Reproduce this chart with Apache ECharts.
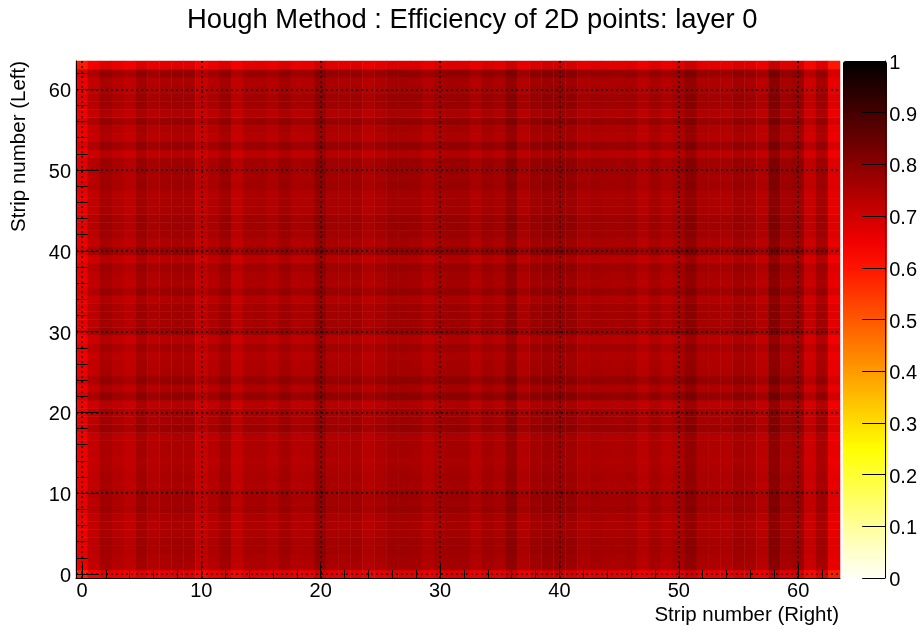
<!DOCTYPE html>
<html>
<head>
<meta charset="utf-8">
<style>html,body{margin:0;padding:0;background:#fff}#c{width:920px;height:634px}</style>
<script src="https://cdn.jsdelivr.net/npm/echarts@6/dist/echarts.min.js"></script>
</head>
<body>
<div id="c"></div>
<script>
const titleText = 'Hough Method : Efficiency of 2D points: layer 0';
const xName = 'Strip number (Right)';
const yName = 'Strip number (Left)';
// efficiency seen along each Right strip (index 0..63), at a typical Left strip
const columnEfficiency = [
  .659,.722,.759,.740,.727,.765,.743,.753,.759,.759,
  .716,.740,.765,.722,.751,.753,.740,.765,.743,.746,
  .785,.755,.753,.759,.740,.751,.765,.765,.763,.743,
  .759,.765,.765,.743,.765,.753,.790,.746,.768,.778,
  .778,.775,.751,.759,.755,.753,.759,.735,.759,.740,
  .759,.790,.753,.751,.746,.765,.759,.735,.800,.759,
  .771,.710,.759,.667];
// efficiency seen along each Left strip (index 0..63), at a typical Right strip
const rowEfficiency = [
  .659,.743,.746,.753,.753,.743,.740,.743,.759,.753,
  .759,.740,.746,.740,.735,.740,.740,.735,.765,.751,
  .751,.727,.775,.740,.772,.743,.740,.735,.753,.727,
  .765,.753,.753,.753,.735,.765,.740,.746,.759,.727,
  .775,.740,.753,.759,.759,.743,.743,.743,.759,.753,
  .759,.759,.727,.768,.735,.740,.768,.735,.759,.759,
  .743,.740,.770,.667];
const typicalEfficiency = 0.745;
const paletteColors = [
  '#fffff5','#ffffcc','#ffff99','#ffff66','#ffff33','#ffff00','#ffdd00','#ffbc00','#ff9a00','#ff7900',
  '#ff5700','#ff3600','#ff1400','#f10000','#cf0000','#ac0000','#8a0000','#670000','#450000','#220000','#000000'];
const strips = columnEfficiency.map((_, i) => String(i));

const cells = [];
columnEfficiency.forEach((c, i) => {
  rowEfficiency.forEach((r, j) => {
    cells.push([i, j, c * r / typicalEfficiency]);
  });
});

const font = '"Liberation Sans", Arial, Helvetica, sans-serif';
const isMajor = (idx) => idx % 10 === 0;
const isMinor = (idx) => idx % 2 === 0;
const dotted = { show: true, alignWithLabel: true, interval: (i) => isMajor(i),
  lineStyle: { color: '#000', width: 1.5, type: [2, 3], opacity: 0.9 } };
const shiftedLabel = { v: { padding: [5, 0, 0, 0], fontFamily: font, fontSize: 20, color: '#000' } };

const chart = echarts.init(document.getElementById('c'), null, { renderer: 'canvas' });
chart.setOption({
  animation: false,
  backgroundColor: '#fff',
  title: { text: titleText, left: 187, top: 7, padding: 0,
    textStyle: { fontFamily: font, fontWeight: 'normal', fontSize: 27.4, color: '#000' } },
  grid: [
    { left: 76, top: 61, width: 764, height: 517, containLabel: false },
    { left: 843, top: 61, width: 44, height: 517, containLabel: false }
  ],
  xAxis: [
    { type: 'category', gridIndex: 0, data: strips, position: 'bottom', z: 5,
      axisLine: { show: true, lineStyle: { color: '#000', width: 1 } },
      axisTick: { show: true, inside: true, length: 15, alignWithLabel: true, interval: (i) => isMajor(i), lineStyle: { color: '#000', width: 1 } },
      axisLabel: { show: true, interval: (i) => isMajor(i), margin: 3, fontFamily: font, fontSize: 20, color: '#000' },
      splitLine: dotted,
      name: xName, nameLocation: 'end', nameGap: 0,
      nameTextStyle: { fontFamily: font, fontSize: 20.5, color: '#000', align: 'right', verticalAlign: 'top', padding: [27, 1, 0, 0] } },
    { type: 'category', gridIndex: 0, data: strips, position: 'bottom', z: 5,
      axisLine: { show: false },
      axisTick: { show: true, inside: true, length: 8, alignWithLabel: true, interval: (i) => isMinor(i), lineStyle: { color: '#000', width: 1 } },
      axisLabel: { show: false }, splitLine: { show: false } },
    { type: 'category', gridIndex: 1, show: false, data: ['scale'] }
  ],
  yAxis: [
    { type: 'category', gridIndex: 0, data: strips, position: 'left', z: 5,
      axisLine: { show: true, lineStyle: { color: '#000', width: 1 } },
      axisTick: { show: true, inside: true, length: 23, alignWithLabel: true, interval: (i) => isMajor(i), lineStyle: { color: '#000', width: 1 } },
      axisLabel: { show: true, interval: (i) => isMajor(i), margin: 5, fontFamily: font, fontSize: 20, color: '#000',
        formatter: (v) => '{v|' + v + '}', rich: shiftedLabel },
      splitLine: dotted,
      name: yName, nameLocation: 'end', nameGap: 0, nameRotate: 90,
      nameTextStyle: { fontFamily: font, fontSize: 20.5, color: '#000', align: 'right', verticalAlign: 'bottom', padding: [0, 0, 46, 0] } },
    { type: 'category', gridIndex: 0, data: strips, position: 'left', z: 5,
      axisLine: { show: false },
      axisTick: { show: true, inside: true, length: 12, alignWithLabel: true, interval: (i) => isMinor(i), lineStyle: { color: '#000', width: 1 } },
      axisLabel: { show: false }, splitLine: { show: false } },
    { type: 'value', gridIndex: 1, min: 0, max: 1, interval: 0.1, position: 'right', z: 5,
      axisLine: { show: true, lineStyle: { color: '#000', width: 1 } },
      axisTick: { show: true, inside: true, length: 23, lineStyle: { color: '#000', width: 1 } },
      axisLabel: { margin: 4, fontFamily: font, fontSize: 20, color: '#000',
        formatter: (v) => '{v|' + (Math.round(v * 10) / 10) + '}', rich: shiftedLabel },
      splitLine: { show: false } }
  ],
  visualMap: {
    type: 'continuous', min: 0, max: 1, seriesIndex: 0, show: true, calculable: false,
    left: 843, top: 61, itemWidth: 44, itemHeight: 517, padding: 0, text: null, showLabel: false,
    inRange: { color: paletteColors }, textStyle: { color: 'rgba(0,0,0,0)', fontSize: 1 }
  },
  series: [{
    type: 'heatmap', xAxisIndex: 0, yAxisIndex: 0, data: cells, progressive: 0,
    itemStyle: { borderWidth: 0 }, emphasis: { disabled: true }
  }]
});
</script>
</body>
</html>
